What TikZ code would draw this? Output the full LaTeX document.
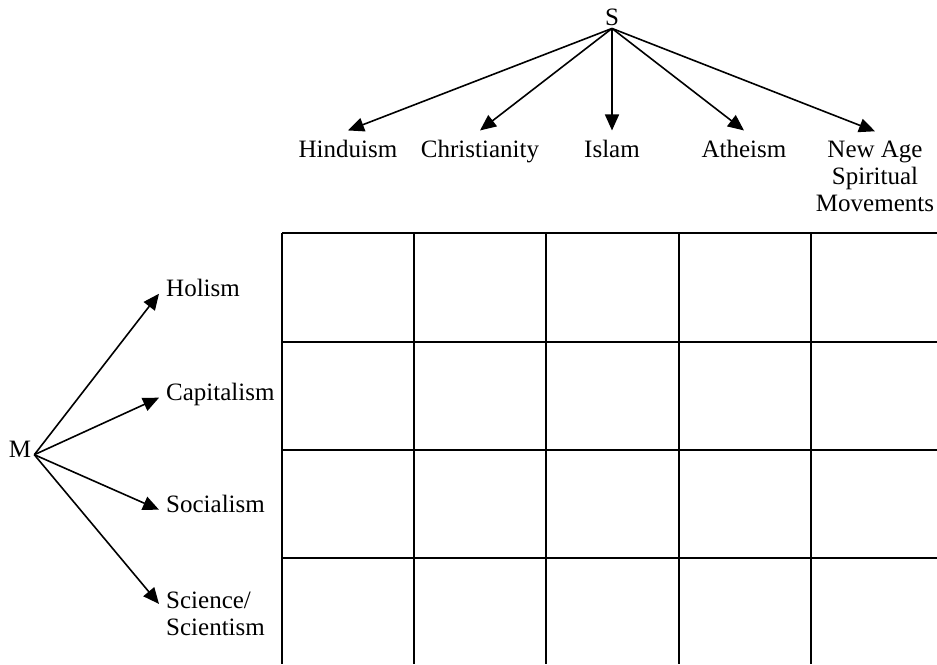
\documentclass[tikz,border=0pt]{standalone}
\usepackage{fontspec}
\setmainfont{Liberation Serif}
\usetikzlibrary{arrows.meta}
\begin{document}
\begin{tikzpicture}[x=1pt,y=-1pt,font=\fontsize{25}{27}\selectfont,
    >={Triangle[length=16pt,width=14pt]}]
      \useasboundingbox (0,0) rectangle (937,664);
      \draw[line width=2pt]
        (282,233) -- (937,233)
        (282,342) -- (937,342)
        (282,450) -- (937,450)
        (282,558) -- (937,558)
        (282,233) -- (282,664)
        (414,233) -- (414,664)
        (546,233) -- (546,664)
        (679,233) -- (679,664)
        (811,233) -- (811,664);
      \draw[inner ysep=9pt]
        (612,25) node[anchor=base,inner ysep=3pt] (S){S}
        (348,157) node[anchor=base] (hinduism){Hinduism}
        (480,157) node[anchor=base] (christianity){Christianity}
        (612,157) node[anchor=base] (islam){Islam}
        (744,157) node[anchor=base] (atheism){Atheism}
        (875,211) node[anchor=base,align=center] (newage){New Age\\Spiritual\\Movements};
      \draw[inner xsep=7pt]
        (20,457) node[anchor=base,inner xsep=3pt] (M){M}
        (159,296) node[anchor=base west] (holism){Holism}
        (159,400) node[anchor=base west] (capitalism){Capitalism}
        (159,512) node[anchor=base west] (socialism){Socialism}
        (159,635) node[anchor=base west,align=left] (science){Science/\\Scientism};
      \begin{scope}[->,line width=1.6pt]
        \draw (S.south) to (hinduism.north);
        \draw (S.south) to (christianity.north);
        \draw (S.south) to (islam.north);
        \draw (S.south) to (atheism.north);
        \draw (S.south) to (newage.north);
        \draw (M.mid east) to (holism.mid west);
        \draw (M.mid east) to (capitalism.mid west);
        \draw (M.mid east) to (socialism.mid west);
        \draw (M.mid east) to ([yshift=-16pt]science.north west);
      \end{scope}
    \end{tikzpicture}
\end{document}
